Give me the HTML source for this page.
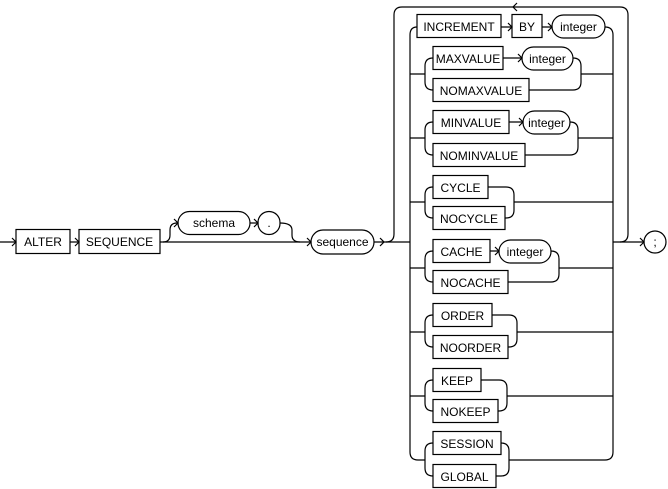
<!DOCTYPE html>
<html><head><meta charset="utf-8"><style>
html,body{margin:0;padding:0;background:#fff;width:668px;height:489px;overflow:hidden}
svg{display:block}
text{font-family:"Liberation Sans",sans-serif;font-size:12px;fill:#000}
</style></head><body>
<svg width="668" height="489" viewBox="0 0 668 489" xmlns="http://www.w3.org/2000/svg">
<g fill="none" stroke="#000" stroke-width="1.2">
<!-- main line -->
<path d="M0 242H16M70 242H79M160 242H311M374 242H410M613 242H644"/>
<path d="M163 242Q170 242 170 235V230Q170 223 177 223H178M250 223H258M280 223Q292 223 292 230V235Q292 242 300 242"/>
<!-- outer loop -->
<path d="M386 242Q394 242 394 234V15Q394 7 402 7H620Q628 7 628 15V234Q628 242 620 242"/>
<!-- inner verticals -->
<path d="M417 27Q410 27 410 35V452Q410 460 418 460H425"/>
<path d="M605 27Q613 27 613 35V452Q613 460 605 460H509"/>
<path d="M501 27H512M542 27H552"/>
<!-- groups -->
<path d="M410 74H425M433 58Q425 58 425 66V82Q425 90 433 90M503 58H522M573 58Q581 58 581 66V82Q581 90 573 90H529M581 74H613"/>
<path d="M410 138H425M433 122Q425 122 425 130V147Q425 155 433 155M509 122H523M570 122Q578 122 578 130V147Q578 155 570 155H525M578 138H613"/>
<path d="M410 202H425M433 187Q425 187 425 195V210Q425 218 433 218M488 187H506Q514 187 514 195V210Q514 218 506 218H505M514 202H613"/>
<path d="M410 268H425M433 251Q425 251 425 259V274Q425 282 433 282M490 251H499M551 251Q559 251 559 259V274Q559 282 551 282H508M559 268H613"/>
<path d="M410 332H425M433 315Q425 315 425 323V339Q425 347 433 347M492 315H509Q517 315 517 323V339Q517 347 509 347H508M517 332H613"/>
<path d="M410 396H425M433 380Q425 380 425 388V403Q425 411 433 411M481 380H499Q507 380 507 388V403Q507 411 499 411H498M507 396H613"/>
<path d="M433 443Q425 443 425 451V468Q425 476 433 476M501 443Q509 443 509 451V468Q509 476 501 476H496"/>
<!-- arrowheads -->
<path d="M12 238L16 242L12 246M75 238L79 242L75 246M307 238L311 242L307 246M380 238L384 242L380 246M174 219L178 223L174 227M254 219L258 223L254 227M508 23L512 27L508 31M548 23L552 27L548 31M518 54L522 58L518 62M519 118L523 122L519 126M495 247L499 251L495 255M640 238L644 242L640 246M517 3L513 7L517 11"/>
<!-- boxes -->
<rect x="16" y="229.5" width="54" height="24"/>
<rect x="79" y="229.5" width="81" height="24"/>
<rect x="178" y="211.5" width="72" height="23" rx="11.5"/>
<rect x="258" y="211.5" width="22" height="23" rx="11"/>
<rect x="311" y="230" width="63" height="24" rx="12"/>
<circle cx="655" cy="242" r="11"/>
<rect x="417" y="14.5" width="84" height="23"/>
<rect x="512" y="14.5" width="30" height="23"/>
<rect x="552" y="15" width="53" height="23" rx="11.5"/>
<rect x="433" y="46.5" width="70" height="23"/>
<rect x="522" y="47" width="51" height="23" rx="11.5"/>
<rect x="433" y="78.5" width="96" height="23"/>
<rect x="433" y="110.5" width="76" height="23"/>
<rect x="523" y="111" width="47" height="23" rx="11.5"/>
<rect x="433" y="143.5" width="92" height="23"/>
<rect x="433" y="175.5" width="55" height="23"/>
<rect x="433" y="206.5" width="72" height="23"/>
<rect x="433" y="239.5" width="57" height="23"/>
<rect x="499" y="240" width="52" height="23" rx="11.5"/>
<rect x="433" y="270.5" width="75" height="23"/>
<rect x="433" y="303.5" width="59" height="23"/>
<rect x="433" y="335.5" width="75" height="23"/>
<rect x="433" y="368.5" width="48" height="23"/>
<rect x="433" y="399.5" width="65" height="23"/>
<rect x="433" y="431.5" width="68" height="23"/>
<rect x="433" y="464.5" width="63" height="23"/>
</g>
<g text-anchor="middle">
<text x="43" y="246">ALTER</text>
<text x="119.5" y="246">SEQUENCE</text>
<text x="214" y="227" font-size="11">schema</text>
<text x="269" y="227">.</text>
<text x="342.5" y="246" font-size="11">sequence</text>
<text x="655" y="246">;</text>
<text x="459" y="31">INCREMENT</text>
<text x="527" y="31">BY</text>
<text x="578.5" y="31" font-size="11">integer</text>
<text x="468" y="63">MAXVALUE</text>
<text x="547.5" y="63" font-size="11">integer</text>
<text x="481" y="95">NOMAXVALUE</text>
<text x="471" y="127">MINVALUE</text>
<text x="546.5" y="127" font-size="11">integer</text>
<text x="479" y="160">NOMINVALUE</text>
<text x="460.5" y="192">CYCLE</text>
<text x="469" y="223">NOCYCLE</text>
<text x="461.5" y="256">CACHE</text>
<text x="525" y="256" font-size="11">integer</text>
<text x="470.5" y="287">NOCACHE</text>
<text x="462.5" y="320">ORDER</text>
<text x="470.5" y="352">NOORDER</text>
<text x="457" y="385">KEEP</text>
<text x="465.5" y="416">NOKEEP</text>
<text x="467" y="448">SESSION</text>
<text x="464.5" y="481">GLOBAL</text>
</g>
</svg>
</body></html>
